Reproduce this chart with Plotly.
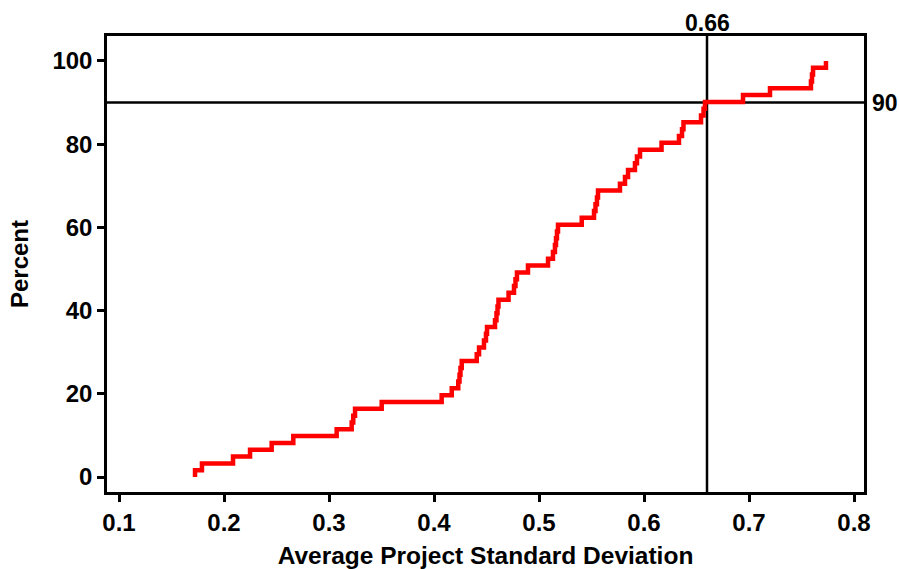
import plotly.graph_objects as go

# Sorted sample values (average project standard deviation)
avg_std = [0.1724, 0.1790, 0.2086, 0.2248, 0.2454, 0.2660, 0.3073, 0.3216, 0.3231, 0.3248,
           0.3502, 0.4073, 0.4169, 0.4231, 0.4243, 0.4252, 0.4264, 0.4407, 0.4429, 0.4476,
           0.4495, 0.4505, 0.4581, 0.4595, 0.4605, 0.4614, 0.4710, 0.4762, 0.4776, 0.4790,
           0.4895, 0.5086, 0.5133, 0.5152, 0.5162, 0.5171, 0.5181, 0.5407, 0.5524, 0.5538,
           0.5552, 0.5562, 0.5771, 0.5819, 0.5848, 0.5914, 0.5933, 0.5962, 0.6167, 0.6333,
           0.6362, 0.6376, 0.6543, 0.6567, 0.6581, 0.6943, 0.7200, 0.7590, 0.7600, 0.7610,
           0.7733]

# Reference percentile marker
ref_x = 0.66
ref_pct = 90
ref_x_label = "0.66"
ref_pct_label = "90"

x_ticks = [0.1, 0.2, 0.3, 0.4, 0.5, 0.6, 0.7, 0.8]
y_ticks = [0, 20, 40, 60, 80, 100]

# Empirical CDF (percent) from the sorted sample
n = len(avg_std)
vals = sorted(avg_std)
pct = [(i + 1) / n * 100 for i in range(n)]
xs = [vals[0]] + vals
ys = [0] + pct

FONT = "Arial, 'Liberation Sans', sans-serif"

fig = go.Figure()
fig.add_trace(go.Scatter(
    x=xs, y=ys, mode="lines", line=dict(color="#FF0000", width=4.5, shape="hv"),
    showlegend=False, hoverinfo="skip"))

fig.add_shape(type="line", xref="x", yref="paper", x0=ref_x, x1=ref_x, y0=0, y1=1,
              line=dict(color="black", width=2.5), layer="below")
fig.add_shape(type="line", xref="paper", yref="y", x0=0, x1=1, y0=ref_pct, y1=ref_pct,
              line=dict(color="black", width=2.5), layer="below")

fig.add_annotation(x=ref_x, xref="x", y=1, yref="paper", text=ref_x_label,
                   showarrow=False, yanchor="bottom", xanchor="center", yshift=-2,
                   font=dict(family=FONT, size=23, color="black", weight="bold"))
fig.add_annotation(x=1, xref="paper", y=ref_pct, yref="y", text=ref_pct_label,
                   showarrow=False, xanchor="left", yanchor="middle", xshift=6,
                   font=dict(family=FONT, size=23, color="black", weight="bold"))

axis_common = dict(showline=True, linecolor="black", linewidth=2.5, mirror=True,
                   ticks="outside", ticklen=7, tickwidth=2.5, tickcolor="black",
                   showgrid=False, zeroline=False,
                   tickfont=dict(family=FONT, size=24, color="black", weight="bold"))

fig.update_layout(
    width=899, height=569,
    margin=dict(l=107, r=35, t=36, b=77, autoexpand=False),
    paper_bgcolor="white", plot_bgcolor="white",
    xaxis=dict(range=[0.08857, 0.80952], tickvals=x_ticks,
               ticktext=[f"{v:g}" for v in x_ticks],
               title=dict(text="Average Project Standard Deviation", standoff=13,
                          font=dict(family=FONT, size=24.5, color="black", weight="bold")),
               **axis_common),
    yaxis=dict(range=[-3.6, 106.0], tickvals=y_ticks,
               title=dict(text="Percent", standoff=18,
                          font=dict(family=FONT, size=24, color="black", weight="bold")),
               **axis_common),
)

fig.write_html("out.html")
